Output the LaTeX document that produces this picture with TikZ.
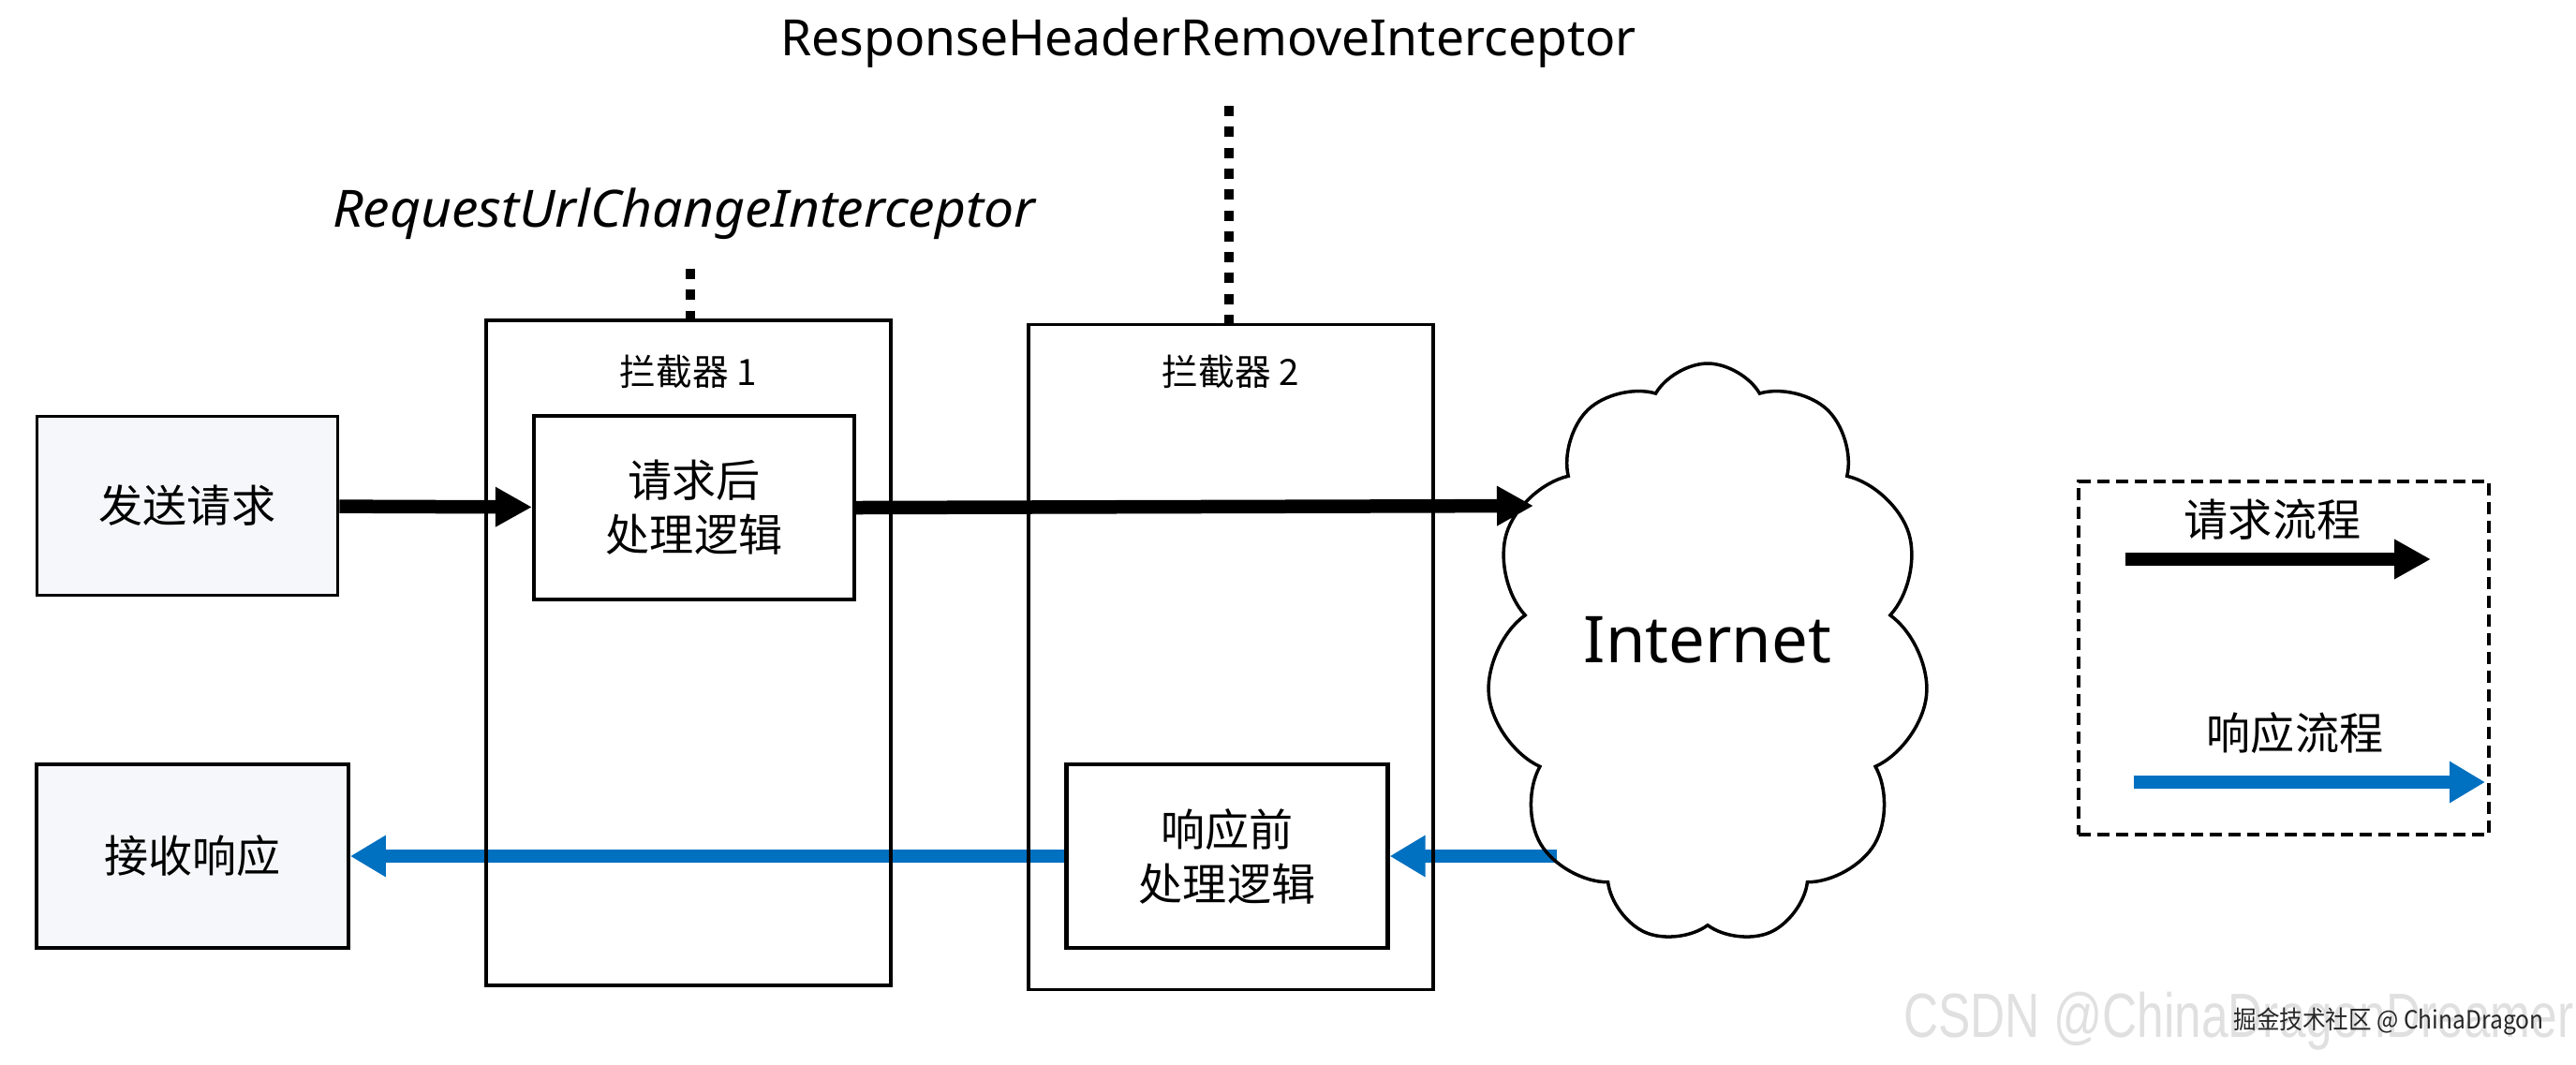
\documentclass[tikz,border=0pt]{standalone}
\usepackage{fontspec}
\setmainfont{Noto Sans}
\newfontfamily\cjk{Noto Sans CJK SC}
\newfontfamily\wmfont{Liberation Sans}
\usepackage{tikz}
\usetikzlibrary{arrows.meta,shapes.symbols,backgrounds}
\definecolor{respblue}{RGB}{0,112,192}
\definecolor{endfill}{RGB}{245,247,250}
\definecolor{wmgray}{RGB}{224,224,224}

\tikzset{
  endbox/.style={draw, line width=1.1pt, fill=endfill, inner sep=0pt, align=center,
    font=\cjk\fontsize{13.4pt}{16.5pt}\selectfont},
  stagebox/.style={draw, line width=0.9pt, minimum width=4.32cm, minimum height=7.1cm, inner sep=0pt},
  logicbox/.style={draw, line width=1.2pt, fill=white, inner sep=0pt, align=center,
    minimum width=3.43cm, minimum height=1.96cm, font=\cjk\fontsize{13.4pt}{16.5pt}\selectfont},
  reqflow/.style={line width=0.145cm, -{Triangle[length=0.39cm, width=0.4cm]}},
  respflow/.style={line width=0.135cm, respblue, -{Triangle[length=0.38cm, width=0.42cm]}},
  tie/.style={line width=0.095cm, dash pattern=on 0.11cm off 0.113cm},
}

\begin{document}
\begin{tikzpicture}
  \useasboundingbox (0,0) rectangle (27.5,-11.36);

  \node[stagebox] (ic1) at (7.35,-6.97) {};
  \node[stagebox] (ic2) at (13.14,-7.015) {};
  \node[font=\cjk\fontsize{11pt}{13pt}\selectfont] (ic1-title) at (7.35,-3.97) {拦截器 1};
  \node[font=\cjk\fontsize{11pt}{13pt}\selectfont] (ic2-title) at (13.14,-3.97) {拦截器 2};

  \node[endbox, minimum width=3.21cm, minimum height=1.91cm] (send) at (2.0,-5.4) {发送请求};
  \node[endbox, minimum width=3.33cm, minimum height=1.96cm] (recv) at (2.055,-9.14) {接收响应};
  \node[logicbox, minimum width=3.42cm] (after) at (7.41,-5.42) {请求后\\处理逻辑};
  \node[logicbox] (before) at (13.10,-9.14) {响应前\\处理逻辑};

  \node[cloud, draw, line width=1pt, cloud puffs=11, cloud puff arc=120, aspect=0.76,
    minimum width=4.72cm, minimum height=6.2cm, inner sep=0pt, text depth=0.3cm,
    font=\fontsize{19.6pt}{22pt}\selectfont] (net) at (18.23,-6.98) {Internet};

  \node[font=\fontsize{15.2pt}{18pt}\selectfont] (rhi) at (12.9,-0.46) {ResponseHeaderRemoveInterceptor};
  \node[font=\fontsize{15.6pt}{18pt}\selectfont\itshape] (ruci) at (7.30,-2.28)
    {\scalebox{1.04}[1]{RequestUrlChangeInterceptor}};
  \coordinate (rhi-tie) at (13.12,-1.13);
  \coordinate (ruci-tie) at (7.37,-2.87);
  \draw[tie] (rhi-tie) -- (rhi-tie |- ic2.north);
  \draw[tie] (ruci-tie) -- (ruci-tie |- ic1.north);

  \coordinate (net-in) at (16.37,-5.4);
  \coordinate (net-out) at (16.62,-9.14);

  \node[draw, line width=0.9pt, dash pattern=on 0.13cm off 0.07cm,
    minimum width=4.38cm, minimum height=3.77cm] (legend) at (24.38,-7.025) {};
  \node[font=\cjk\fontsize{13.4pt}{16pt}\selectfont] (lg-req) at (24.26,-5.55) {请求流程};
  \node[font=\cjk\fontsize{13.4pt}{16pt}\selectfont] (lg-resp) at (24.5,-7.83) {响应流程};
  \coordinate (lg-req-a) at (22.69,-5.97);
  \coordinate (lg-req-b) at (25.95,-5.97);
  \coordinate (lg-resp-a) at (22.78,-8.35);
  \coordinate (lg-resp-b) at (26.53,-8.35);

  \node[wmgray, font=\wmfont\fontsize{19pt}{22pt}\selectfont] (wm-csdn) at (23.9,-10.9)
    {\scalebox{0.77}[1]{CSDN @ChinaDragonDreamer}};
  \node[black!85, font=\cjk\fontsize{7.6pt}{9pt}\selectfont] (wm-juejin) at (25.5,-10.9)
    {\scalebox{0.92}[1]{掘金技术社区 @ ChinaDragon}};

  \begin{scope}[on background layer]
  \path
  (send) edge[reqflow] (after)
  (after.east) edge[reqflow] (net-in)
  (net-out) edge[respflow] (before.east)
  (before) edge[respflow] (recv)
  (lg-req-a) edge[reqflow] (lg-req-b)
  (lg-resp-a) edge[respflow] (lg-resp-b)
  ;
  \end{scope}
\end{tikzpicture}
\end{document}
